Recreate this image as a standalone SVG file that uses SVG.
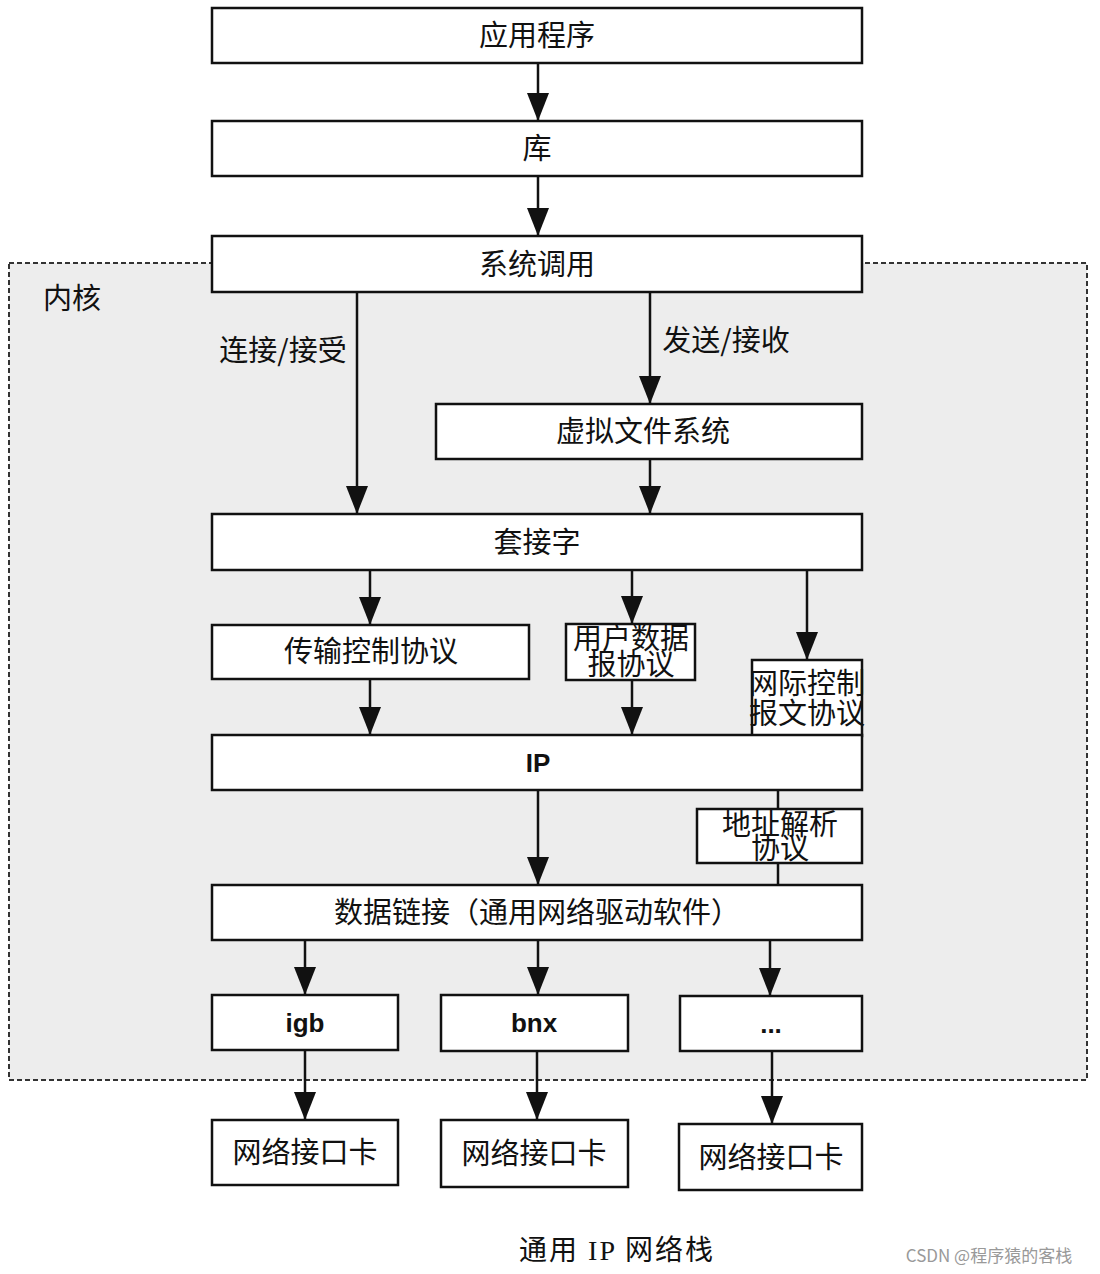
<svg xmlns="http://www.w3.org/2000/svg" width="1100" height="1274" viewBox="0 0 1100 1274">
<style>
.box{fill:#fff;stroke:#111;stroke-width:2.5}
.t{font-family:"Noto Sans CJK SC","Liberation Sans",sans-serif;font-size:29px;fill:#111;text-anchor:middle}
.b{font-family:"Liberation Sans","Noto Sans CJK SC",sans-serif;font-size:26px;font-weight:bold;fill:#111;text-anchor:middle}
.ln{stroke:#111;stroke-width:2.5;fill:none}
</style>
<defs>
<marker id="a" markerUnits="userSpaceOnUse" markerWidth="28" markerHeight="22" refX="28" refY="11" orient="auto" viewBox="0 0 28 22">
<path d="M0,0 L28,11 L0,22 Z" fill="#111"/>
</marker>
</defs>
<rect width="1100" height="1274" fill="#fff"/>
<g id="kernel">
<rect x="9" y="263" width="1078" height="817" fill="#ededed" stroke="#333" stroke-width="2" stroke-dasharray="5,3"/>
<text x="72" y="309" class="t" font-size="27">内核</text>
</g>
<g id="connectors">
<line class="ln" x1="538" y1="63" x2="538" y2="121" marker-end="url(#a)"/>
<line class="ln" x1="538" y1="176" x2="538" y2="236" marker-end="url(#a)"/>
<line class="ln" x1="357" y1="292" x2="357" y2="514" marker-end="url(#a)"/>
<line class="ln" x1="650" y1="292" x2="650" y2="404" marker-end="url(#a)"/>
<line class="ln" x1="650" y1="459" x2="650" y2="514" marker-end="url(#a)"/>
<line class="ln" x1="370" y1="570" x2="370" y2="625" marker-end="url(#a)"/>
<line class="ln" x1="632" y1="570" x2="632" y2="624" marker-end="url(#a)"/>
<line class="ln" x1="807" y1="570" x2="807" y2="660" marker-end="url(#a)"/>
<line class="ln" x1="370" y1="679" x2="370" y2="735" marker-end="url(#a)"/>
<line class="ln" x1="632" y1="680" x2="632" y2="735" marker-end="url(#a)"/>
<line class="ln" x1="538" y1="790" x2="538" y2="885" marker-end="url(#a)"/>
<line class="ln" x1="778" y1="790" x2="778" y2="885"/>
<line class="ln" x1="305" y1="940" x2="305" y2="995" marker-end="url(#a)"/>
<line class="ln" x1="538" y1="940" x2="538" y2="995" marker-end="url(#a)"/>
<line class="ln" x1="770" y1="940" x2="770" y2="996" marker-end="url(#a)"/>
<line class="ln" x1="305" y1="1050" x2="305" y2="1120" marker-end="url(#a)"/>
<line class="ln" x1="537" y1="1051" x2="537" y2="1120" marker-end="url(#a)"/>
<line class="ln" x1="772" y1="1051" x2="772" y2="1124" marker-end="url(#a)"/>
<text x="283" y="361" class="t">连接/接受</text>
<text x="726" y="351" class="t">发送/接收</text>
</g>
<g id="app"><rect class="box" x="212" y="8" width="650" height="55"/><text x="537" y="46" class="t">应用程序</text></g>
<g id="lib"><rect class="box" x="212" y="121" width="650" height="55"/><text x="537" y="159" class="t">库</text></g>
<g id="syscall"><rect class="box" x="212" y="236" width="650" height="56"/><text x="537" y="275" class="t">系统调用</text></g>
<g id="vfs"><rect class="box" x="436" y="404" width="426" height="55"/><text x="643" y="442" class="t">虚拟文件系统</text></g>
<g id="socket"><rect class="box" x="212" y="514" width="650" height="56"/><text x="537" y="553" class="t">套接字</text></g>
<g id="tcp"><rect class="box" x="212" y="625" width="317" height="54"/><text x="371" y="662" class="t">传输控制协议</text></g>
<g id="udp"><rect class="box" x="566" y="624" width="129" height="56"/><text x="631" y="649" class="t" font-size="27">用户数据</text><text x="631" y="675" class="t" font-size="27">报协议</text></g>
<g id="icmp"><rect class="box" x="752" y="660" width="110" height="76"/><text x="807" y="694" class="t" font-size="26">网际控制</text><text x="807" y="724" class="t" font-size="26">报文协议</text></g>
<g id="ip"><rect class="box" x="212" y="735" width="650" height="55"/><text x="538" y="772" class="b">IP</text></g>
<g id="arp"><rect class="box" x="697" y="809" width="165" height="54"/><text x="780" y="835" class="t" font-size="27">地址解析</text><text x="780" y="859" class="t" font-size="27">协议</text></g>
<g id="datalink"><rect class="box" x="212" y="885" width="650" height="55"/><text x="537" y="923" class="t">数据链接（通用网络驱动软件）</text></g>
<g id="igb"><rect class="box" x="212" y="995" width="186" height="55"/><text x="305" y="1032" class="b" font-size="25">igb</text></g>
<g id="bnx"><rect class="box" x="441" y="995" width="187" height="56"/><text x="534" y="1032" class="b" font-size="25">bnx</text></g>
<g id="etc"><rect class="box" x="680" y="996" width="182" height="55"/><text x="771" y="1033" class="b" font-size="25">...</text></g>
<g id="nic1"><rect class="box" x="212" y="1120" width="186" height="65"/><text x="305" y="1163" class="t">网络接口卡</text></g>
<g id="nic2"><rect class="box" x="441" y="1120" width="187" height="67"/><text x="534" y="1164" class="t">网络接口卡</text></g>
<g id="nic3"><rect class="box" x="679" y="1124" width="183" height="66"/><text x="771" y="1168" class="t">网络接口卡</text></g>
<text x="617" y="1260" font-family="'Liberation Serif','Noto Sans CJK SC',serif" font-size="28" fill="#111" text-anchor="middle" letter-spacing="2">通用 IP 网络栈</text>
<text x="989" y="1262" font-family="'Noto Sans CJK SC',sans-serif" font-size="17" fill="#999" text-anchor="middle">CSDN @程序猿的客栈</text>
</svg>
